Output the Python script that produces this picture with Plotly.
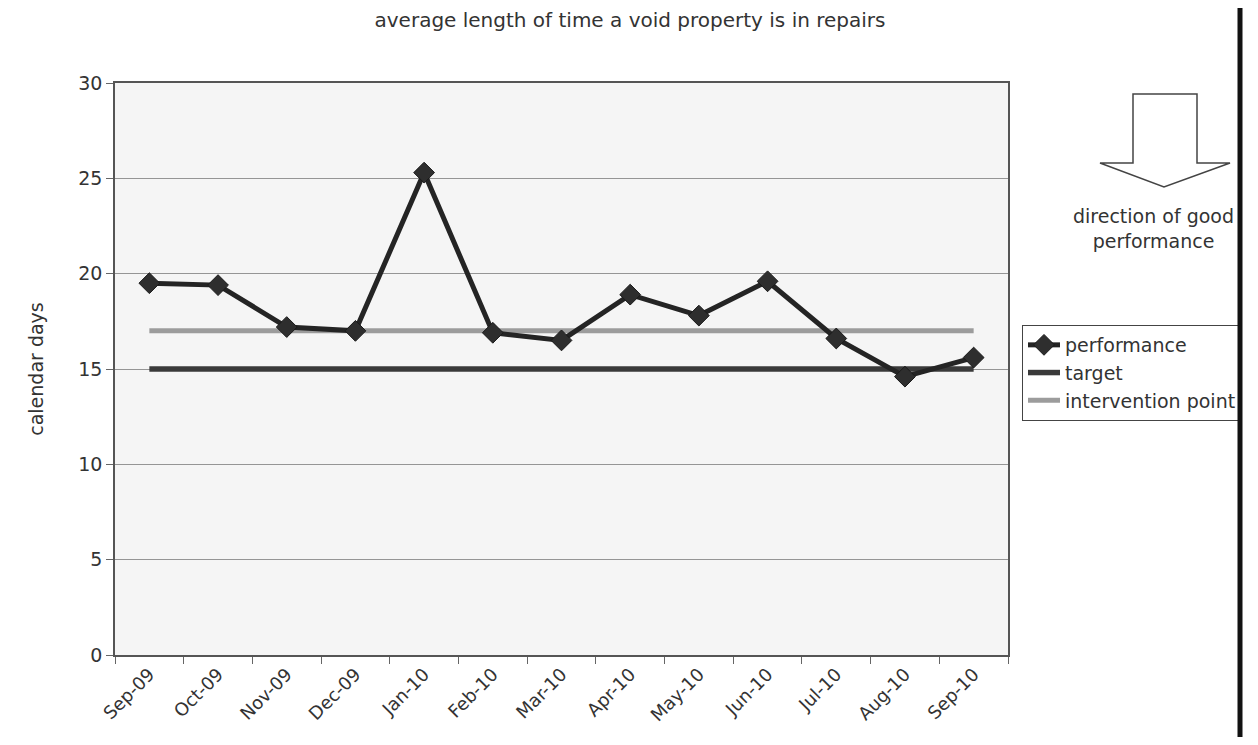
import plotly.graph_objects as go

months = ["Sep-09", "Oct-09", "Nov-09", "Dec-09", "Jan-10", "Feb-10", "Mar-10",
          "Apr-10", "May-10", "Jun-10", "Jul-10", "Aug-10", "Sep-10"]
performance = [19.5, 19.4, 17.2, 17.0, 25.3, 16.9, 16.5, 18.9, 17.8, 19.6, 16.6, 14.6, 15.6]
target = [15] * 13
intervention = [17] * 13

OFF = 8                      # default body margin of the html page
W, H = 1258 - 2 * OFF, 745 - 2 * OFF
# plot area in screen pixels
L, R, T, B = 115, 1008, 83, 655
FONT = "DejaVu Sans"
TXT = "#333333"


def px(x):
    return (x - L) / (R - L)


def py(y):
    return (B - y) / (B - T)


fig = go.Figure()
fig.add_trace(go.Scatter(x=months, y=intervention, name="intervention point", mode="lines",
                         line=dict(color="#9c9c9c", width=5)))
fig.add_trace(go.Scatter(x=months, y=target, name="target", mode="lines",
                         line=dict(color="#3a3a3a", width=5.5)))
fig.add_trace(go.Scatter(x=months, y=performance, name="performance", mode="lines+markers",
                         line=dict(color="#242424", width=5),
                         marker=dict(symbol="diamond", size=16, color="#2e2e2e",
                                     line=dict(color="#1a1a1a", width=1))))

# hollow "direction of good performance" arrow
arrow = [(1133, 94), (1197, 94), (1197, 163), (1230, 163), (1164, 187),
         (1100, 163), (1133, 163)]
path = "M " + " L ".join(f"{px(x):.5f},{py(y):.5f}" for x, y in arrow) + " Z"
fig.add_shape(type="path", path=path, xref="paper", yref="paper",
              line=dict(color="#444444", width=1.5), fillcolor="white")

fig.add_annotation(x=px(1153), y=py(203), xref="paper", yref="paper",
                   xanchor="center", yanchor="top",
                   text="direction of good<br>performance", showarrow=False,
                   font=dict(family=FONT, size=19, color=TXT), align="center")

# scanned page edge: thick black line, page beyond it blank
fig.add_annotation(x=px(1241), y=py(-20), xref="paper", yref="paper",
                   xanchor="left", yanchor="top", text=" ", showarrow=False,
                   width=30, height=800, bgcolor="white", borderpad=0)
fig.add_annotation(x=px(1237), y=py(-20), xref="paper", yref="paper",
                   xanchor="left", yanchor="top", text=" ", showarrow=False,
                   width=4, height=800, bgcolor="#111111", borderpad=0)

fig.update_layout(
    width=W, height=H,
    margin=dict(l=L - OFF, r=W - (R - OFF), t=T - OFF, b=H - (B - OFF), autoexpand=False),
    paper_bgcolor="white",
    plot_bgcolor="#f5f5f5",
    title=dict(text="average length of time a void property is in repairs",
               x=(630 - OFF) / W, xanchor="center", xref="container",
               y=1 - (20 - OFF) / H, yanchor="middle",
               font=dict(family=FONT, size=20, color=TXT)),
    font=dict(family=FONT, color=TXT),
    legend=dict(x=(1022 - OFF) / W, y=1 - (325 - OFF) / H, xref="container", yref="container",
                xanchor="left", yanchor="top",
                bgcolor="white", bordercolor="#444444", borderwidth=1,
                font=dict(family=FONT, size=19, color=TXT),
                traceorder="reversed", tracegroupgap=0, itemwidth=32),
    showlegend=True,
)
fig.update_xaxes(type="category", range=[-0.5, 12.5], tickson="boundaries",
                 showgrid=False, ticks="outside", ticklen=7, tickcolor="#666666",
                 showline=True, linecolor="#555555", linewidth=1.5, mirror=True,
                 tickangle=-45, tickfont=dict(family=FONT, size=18, color=TXT))
fig.update_yaxes(range=[0, 30], dtick=5, showgrid=True, gridcolor="#959595", gridwidth=1,
                 ticks="outside", ticklen=7, tickcolor="#666666",
                 showline=True, linecolor="#555555", linewidth=1.5, mirror=True,
                 zeroline=False,
                 tickfont=dict(family=FONT, size=19, color=TXT),
                 title=dict(text="calendar days", standoff=30,
                            font=dict(family=FONT, size=19, color=TXT)))

fig.write_html("out.html")
